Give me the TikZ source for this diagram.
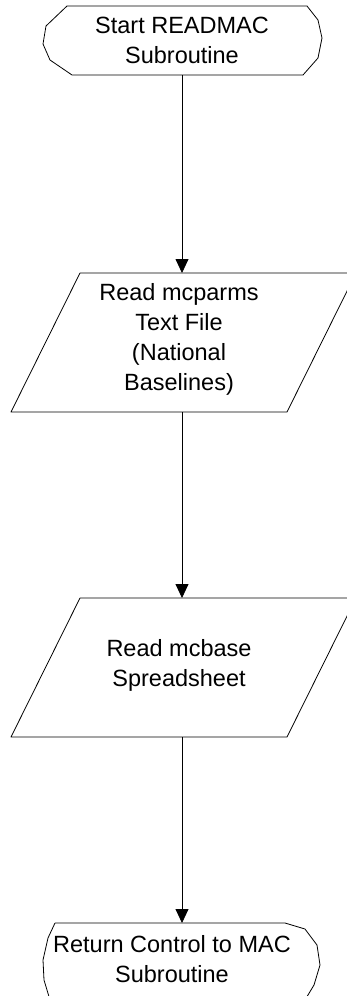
\documentclass[tikz,border=0pt]{standalone}
\usepackage{fontspec}
\setmainfont{Liberation Sans}
\usetikzlibrary{arrows.meta}
\begin{document}
\begin{tikzpicture}[x=1pt,y=-1pt,
  box/.style={inner sep=0pt,minimum width=200pt,align=center,font=\fontsize{23.5}{30}\selectfont},
  outline/.style={draw=black,line width=0.8pt,line join=round},
  arr/.style={draw=black,line width=0.8pt,-{Triangle[width=13pt,length=14pt]}}]
\clip (0,0) rectangle (347,996);
\fill[white] (0,0) rectangle (347,996);
% shapes
\draw[outline] (67,6) -- (307,6) -- (318,20) -- (322,38) -- (318,58) -- (303,75) -- (72,75) -- (50,60) -- (43,44) -- (46,26) -- cycle;
\draw[outline] (80,273) -- (356,273) -- (287,412) -- (11,412) -- cycle;
\draw[outline] (80,598) -- (356,598) -- (287,737) -- (11,737) -- cycle;
\draw[outline] (55,923) -- (285,923) -- (305,929) -- (317,945) -- (320,965) -- (314,985) -- (305,1000) (50,1000) -- (44,980) -- (43,960) -- (48,938) -- (55,923);
% nodes
\node[box] (start) at (182,40.5) {Start READMAC\\Subroutine};
\node[box] (readp) at (179,339) {Read mcparms\\Text File\\(National\\Baselines)};
\node[box] (readb) at (179,665) {Read mcbase\\Spreadsheet};
\node[box] (ret) at (172,959) {Return Control to MAC\\Subroutine};
% connectors
\coordinate (a1) at (182,75);
\coordinate (a2) at (182,273);
\coordinate (b1) at (182,412);
\coordinate (b2) at (182,598);
\coordinate (c1) at (182,737);
\coordinate (c2) at (182,923);
\draw[arr] (a1) -- (a2);
\draw[arr] (b1) -- (b2);
\draw[arr] (c1) -- (c2);
\end{tikzpicture}
\end{document}
